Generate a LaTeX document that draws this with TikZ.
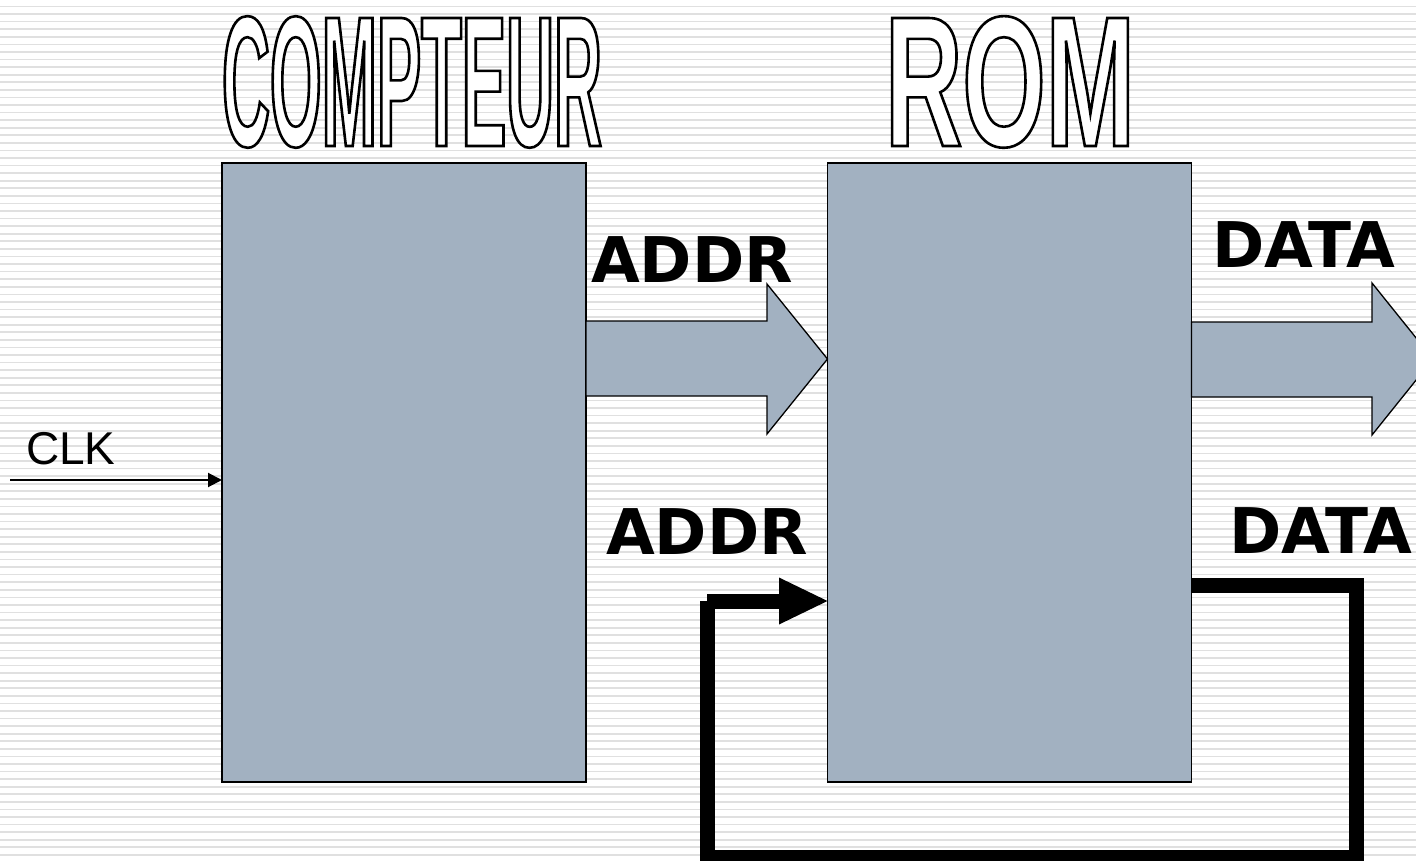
\documentclass[tikz,border=0pt]{standalone}
\usepackage{fontspec}
\setmainfont{Liberation Sans}
\newfontfamily\labelfont{DejaVu Sans}
% condensed heavy faces for the headings, stroked (fill + stroke rendering)
\newfontfamily\wordartA[FakeStretch=0.357,FakeBold=1.4]{Liberation Sans}
\newfontfamily\wordartB[FakeStretch=0.576,FakeBold=1.4]{Liberation Sans}
\usetikzlibrary{calc,arrows.meta}

\definecolor{blockfill}{RGB}{162,177,193}
\definecolor{stripe}{RGB}{224,224,224}

% white letters with a black stroke
\newcommand{\outlined}[1]{{\color{white}\special{pdf:code 0 G}#1}}

\tikzset{
  block/.style={draw=black, line width=1.5pt, fill=blockfill,
    minimum width=364pt, minimum height=619pt, inner sep=0pt, outer sep=0pt},
  busarrow/.style={draw=black, line width=1.3pt, fill=blockfill, line join=miter},
  buslabel/.style={font=\labelfont\bfseries\fontsize{63}{70}\selectfont,
    anchor=base west, inner sep=0pt},
  clklabel/.style={font=\fontsize{46}{50}\selectfont, anchor=base west, inner sep=0pt},
  titletext/.style={anchor=base, inner sep=0pt},
  feedback/.style={line width=15pt, black},
}

\begin{document}
\begin{tikzpicture}[x=1pt,y=-1pt]
  \useasboundingbox (0,0) rectangle (1416,861);
  \clip (0,0) rectangle (1416,861);

  % striped background
  \fill[white] (0,0) rectangle (1416,861);
  \foreach \i in {0,...,113}
    \draw[stripe, line width=1.7pt] (0,{6.5+7.575*\i}) -- (1416,{6.5+7.575*\i});

  % titles
  \node[titletext] (ttlcnt) at (412,146)
    {\wordartA\bfseries\fontsize{186}{190}\selectfont\outlined{COMPTEUR}};
  \node[titletext] (ttlrom) at (1010,146)
    {\wordartB\bfseries\fontsize{186}{190}\selectfont\outlined{ROM}};

  % blocks
  \node[block] (cnt) at (404,472.5) {};
  \node[block] (rom) at (1009.5,472.5) {};

  % address bus
  \draw[busarrow] (cnt.east |- 0,321) -- (767,321) -- (767,284)
    -- (rom.west |- 0,359) -- (767,434) -- (767,396) -- (cnt.east |- 0,396) -- cycle;

  % data bus
  \coordinate (dataout) at (1433,359);
  \draw[busarrow] (rom.east |- 0,322) -- (1372,322) -- (1372,283)
    -- (dataout) -- (1372,435) -- (1372,397) -- (rom.east |- 0,397) -- cycle;

  % labels
  \node[buslabel] (addrA) at (591,282) {ADDR};
  \node[buslabel] (addrB) at (606,554) {ADDR};
  \node[buslabel] (dataA) at (1212,267) {DATA};
  \node[buslabel] (dataB) at (1229,553) {DATA};
  \node[clklabel] (clk) at (26,464) {CLK};

  % clock input
  \coordinate (clkin) at (10,480);
  \draw[line width=2pt, -{Triangle[length=14pt,width=14pt]}] (clkin) -- (cnt.west |- 0,480);

  % data fed back to the address input
  \draw[feedback] (rom.east |- 0,585.5) -- (1356,585.5) -- (1356,857) -- (707,857) -- (707,601);
  \draw[feedback] (707,601) -- (779,601);
  \fill[black] (779,577.5) -- (rom.west |- 0,601) -- (779,624.5) -- cycle;
\end{tikzpicture}
\end{document}
